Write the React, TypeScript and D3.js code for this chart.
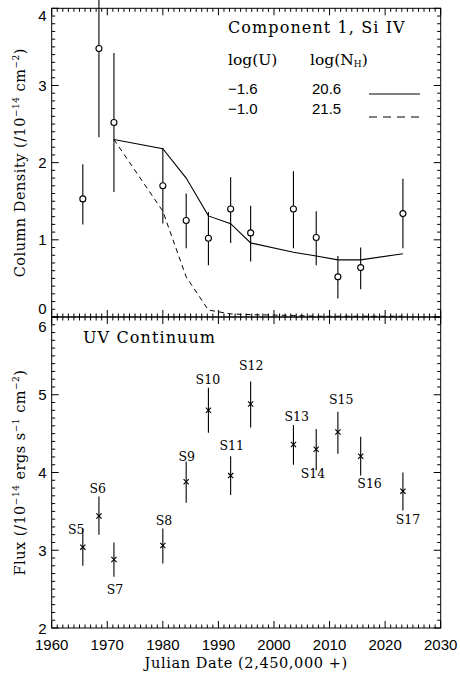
import * as d3 from 'd3';

// Julian date (2,450,000 +) of each observation
const years = [1965.6, 1968.5, 1971.2, 1980.0, 1984.2, 1988.2, 1992.2, 1995.8, 2003.5, 2007.6, 2011.5, 2015.6, 2023.2];

// Component 1, Si IV column density (/1e14 cm^-2)
const colDens = [1.53, 3.48, 2.52, 1.70, 1.25, 1.02, 1.40, 1.09, 1.40, 1.03, 0.52, 0.64, 1.34];
const colHi = [1.98, 4.63, 3.42, 2.19, 1.60, 1.36, 1.81, 1.44, 1.89, 1.37, 0.79, 0.90, 1.79];
const colLo = [1.20, 2.33, 1.62, 1.21, 0.89, 0.67, 0.96, 0.72, 0.89, 0.67, 0.24, 0.36, 0.89];

// photoionization models, from the third epoch on
const modelYears = years.slice(2);
const modelA = [2.30, 2.18, 1.80, 1.31, 1.21, 0.96, 0.84, 0.79, 0.74, 0.74, 0.82]; // logU -1.6, logNH 20.6
const modelB = [2.30, 1.37, 0.52, 0.09, 0.04, 0.03, 0.02, 0.01, 0.01, 0.01, 0.01]; // logU -1.0, logNH 21.5

// UV continuum flux (/1e-14 ergs s^-1 cm^-2)
const flux = [3.04, 3.44, 2.88, 3.06, 3.88, 4.80, 3.96, 4.88, 4.36, 4.30, 4.52, 4.21, 3.76];
const fluxHi = [3.28, 3.69, 3.10, 3.28, 4.14, 5.09, 4.21, 5.17, 4.61, 4.56, 4.78, 4.46, 4.00];
const fluxLo = [2.80, 3.20, 2.66, 2.83, 3.61, 4.51, 3.71, 4.58, 4.10, 4.03, 4.24, 3.96, 3.51];

const obsNames = ['S5', 'S6', 'S7', 'S8', 'S9', 'S10', 'S11', 'S12', 'S13', 'S14', 'S15', 'S16', 'S17'];
const labelYear = [1964.4, 1968.3, 1971.4, 1980.2, 1984.3, 1988.1, 1992.4, 1995.9, 2004.1, 2007.0, 2012.1, 2017.2, 2024.1];
const labelFlux = [3.27, 3.79, 2.50, 3.38, 4.21, 5.20, 4.35, 5.37, 4.72, 3.99, 4.94, 3.86, 3.40];

const xTicks = [1960, 1970, 1980, 1990, 2000, 2010, 2020, 2030];
const topTicks = [0, 1, 2, 3, 4];
const botTicks = [2, 3, 4, 5, 6];

const W = 460;
const H = 675;
const L = 51.7;
const R = 440.7;
const T = 8.3;
const M = 317;
const B = 628;

const serif = '"DejaVu Serif", serif';
const sans = '"Liberation Sans", Arial, sans-serif';

const x = d3.scaleLinear().domain([1960, 2030]).range([L, R]);
const yTop = d3.scaleLinear().domain([0, 4]).range([M, T]);
const yBot = d3.scaleLinear().domain([2, 6]).range([B, M]);

const Frame = ({ y, top, bottom }: { y: d3.ScaleLinear<number, number>; top: number; bottom: number }) => {
  const [d0, d1] = y.domain();
  const yMinor = d3.range(Math.round(d0 * 10), Math.round(d1 * 10) + 1).map(v => v / 10);
  const xMinor = d3.range(1960, 2031);
  return (
    <g stroke="#000" strokeWidth={1} fill="none">
      <rect x={L} y={top} width={R - L} height={bottom - top} />
      {xMinor.map(v => {
        const len = v % 10 === 0 ? 7 : 3.5;
        return (
          <g key={'x' + v}>
            <line x1={x(v)} x2={x(v)} y1={bottom} y2={bottom - len} />
            <line x1={x(v)} x2={x(v)} y1={top} y2={top + len} />
          </g>
        );
      })}
      {yMinor.map(v => {
        const len = Math.abs(v - Math.round(v)) < 1e-6 ? 7 : 3.5;
        return (
          <g key={'y' + v}>
            <line x1={L} x2={L + len} y1={y(v)} y2={y(v)} />
            <line x1={R} x2={R - len} y1={y(v)} y2={y(v)} />
          </g>
        );
      })}
    </g>
  );
};

export default function App() {
  const lineGen = d3.line<number>()
    .x((_, i) => x(modelYears[i]))
    .y(d => yTop(d));

  return (
    <svg width={W} height={H} style={{ position: 'absolute', left: 0, top: 0, background: '#fff' }}>
      <Frame y={yTop} top={T} bottom={M} />
      <Frame y={yBot} top={M} bottom={B} />

      {/* y tick labels */}
      <g fontFamily={sans} fontSize={15} textAnchor="end" fill="#000">
        {topTicks.map(v => (
          <text key={'t' + v} x={L - 5} y={Math.min(Math.max(yTop(v), 15), 308.5)} dominantBaseline="central">{v}</text>
        ))}
        {botTicks.map(v => (
          <text key={'b' + v} x={L - 5} y={Math.max(yBot(v), 326)} dominantBaseline="central">{v}</text>
        ))}
      </g>

      {/* x tick labels */}
      <g fontFamily={sans} fontSize={15} textAnchor="middle" fill="#000">
        {xTicks.map(v => (
          <text key={v} x={x(v)} y={650}>{v}</text>
        ))}
      </g>
      <text x={(L + R) / 2} y={668} textAnchor="middle" fontFamily={serif} fontSize={14.5} letterSpacing={0.6}>
        Julian Date (2,450,000 +)
      </text>

      {/* y axis titles */}
      <text transform={`translate(25,${(T + M) / 2}) rotate(-90)`} textAnchor="middle" fontFamily={serif} fontSize={14.5} letterSpacing={0.5}>
        Column Density (/10<tspan fontSize={9} dy={-6}>−14</tspan><tspan dy={6}> cm</tspan><tspan fontSize={9} dy={-6}>−2</tspan><tspan dy={6}>)</tspan>
      </text>
      <text transform={`translate(25,${(M + B) / 2}) rotate(-90)`} textAnchor="middle" fontFamily={serif} fontSize={14.5} letterSpacing={0.5}>
        Flux (/10<tspan fontSize={9} dy={-6}>−14</tspan><tspan dy={6}> ergs s</tspan><tspan fontSize={9} dy={-6}>−1</tspan><tspan dy={6}> cm</tspan><tspan fontSize={9} dy={-6}>−2</tspan><tspan dy={6}>)</tspan>
      </text>

      {/* top panel */}
      <text x={228} y={33} fontFamily={serif} fontSize={16} letterSpacing={1.1}>Component 1, Si IV</text>
      <g fontFamily={serif} fontSize={15.5}>
        <text x={228} y={65}>log(U)</text>
        <text x={310} y={65}>log(N<tspan fontSize={9} dy={2}>H</tspan><tspan dy={-2}>)</tspan></text>
      </g>
      <g fontFamily={sans} fontSize={15}>
        <text x={228} y={94}>−1.6</text>
        <text x={312} y={94}>20.6</text>
        <text x={228} y={114}>−1.0</text>
        <text x={312} y={114}>21.5</text>
      </g>
      <line x1={369} x2={420} y1={94} y2={94} stroke="#000" />
      <line x1={369} x2={420} y1={117} y2={117} stroke="#000" strokeDasharray="8,6" />

      <path d={lineGen(modelA) ?? ''} fill="none" stroke="#000" strokeWidth={1.1} />
      <path d={lineGen(modelB) ?? ''} fill="none" stroke="#000" strokeWidth={1} strokeDasharray="5,4" />

      <g stroke="#000" strokeWidth={1.1} fill="none">
        {years.map((yr, i) => {
          const cx = x(yr);
          const cy = yTop(colDens[i]);
          return (
            <g key={'c' + i}>
              <line x1={cx} x2={cx} y1={yTop(colHi[i])} y2={cy - 3} />
              <line x1={cx} x2={cx} y1={cy + 3} y2={yTop(colLo[i])} />
              <circle cx={cx} cy={cy} r={3} />
            </g>
          );
        })}
      </g>

      {/* bottom panel */}
      <text x={83} y={343} fontFamily={serif} fontSize={16} letterSpacing={1.1}>UV Continuum</text>
      <g stroke="#000" strokeWidth={1.1} fill="none">
        {years.map((yr, i) => {
          const cx = x(yr);
          const cy = yBot(flux[i]);
          const s = 2.6;
          return (
            <g key={'f' + i}>
              <line x1={cx} x2={cx} y1={yBot(fluxHi[i])} y2={yBot(fluxLo[i])} />
              <line x1={cx - s} x2={cx + s} y1={cy - s} y2={cy + s} />
              <line x1={cx - s} x2={cx + s} y1={cy + s} y2={cy - s} />
            </g>
          );
        })}
      </g>
      <g fontFamily={serif} fontSize={12.5} textAnchor="middle">
        {obsNames.map((n, i) => (
          <text key={n} x={x(labelYear[i])} y={yBot(labelFlux[i])} dominantBaseline="central">{n}</text>
        ))}
      </g>
    </svg>
  );
}
